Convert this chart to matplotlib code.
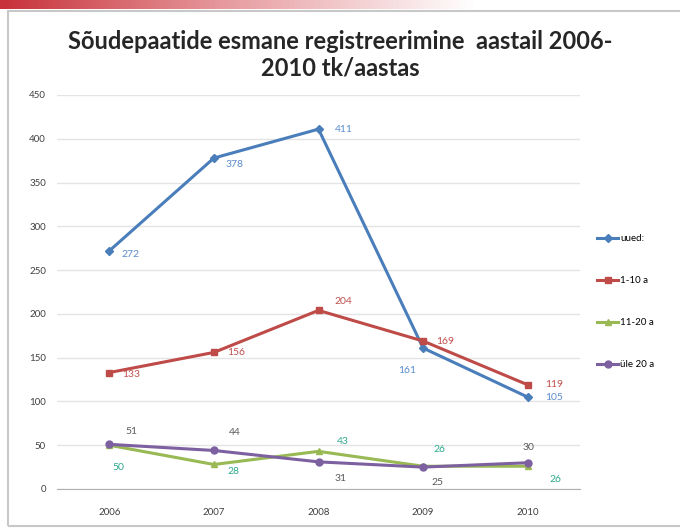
import numpy as np
import matplotlib.pyplot as plt
from matplotlib.colors import LinearSegmentedColormap
from matplotlib.patches import Rectangle

years = ['2006', '2007', '2008', '2009', '2010']
uued = [272, 378, 411, 161, 105]
a1_10 = [133, 156, 204, 169, 119]
a11_20 = [50, 28, 43, 26, 26]
ule20 = [51, 44, 31, 25, 30]
y_ticks = [0, 50, 100, 150, 200, 250, 300, 350, 400, 450]

plt.rcParams['font.family'] = ['Lato', 'DejaVu Sans']

fig = plt.figure(figsize=(6.8, 5.29), dpi=100)

# red gradient bar on top of the slide
bar = fig.add_axes([0, 1 - 9 / 529, 1, 9 / 529])
cmap = LinearSegmentedColormap.from_list('bar', ['#c8323a', '#e8a0a4', '#ffffff'])
grad = np.linspace(0, 1, 256)
grad = np.clip(grad / 0.7, 0, 1)
bar.imshow(grad[np.newaxis, :], aspect='auto', cmap=cmap, extent=[0, 1, 0, 1])
bar.axis('off')

# chart frame
fig.patches.append(Rectangle((8 / 680, 3 / 529), 1, 515 / 529, transform=fig.transFigure,
                             fill=False, edgecolor='#c8c8c8', linewidth=1.5))

ax = fig.add_axes([57 / 680, 40 / 529, 523 / 680, 394 / 529])
x = np.arange(len(years))

ax.plot(x, uued, color='#4a7ebb', marker='D', markersize=4, linewidth=2.2, label='uued:')
ax.plot(x, a1_10, color='#be4b48', marker='s', markersize=5, linewidth=2.2, label='1-10 a')
ax.plot(x, a11_20, color='#98b954', marker='^', markersize=4, linewidth=2.2, label='11-20 a')
ax.plot(x, ule20, color='#7d60a0', marker='o', markersize=5, linewidth=2.2, label='üle 20 a')

ax.set_xlim(-0.5, len(years) - 0.5)
ax.set_ylim(0, 450)
ax.set_yticks(y_ticks)
ax.set_xticks(x)
ax.set_xticklabels(years)
ax.tick_params(axis='both', length=0, labelsize=7, colors='#404040')
ax.tick_params(axis='x', pad=14)
ax.tick_params(axis='y', pad=8)
ax.grid(axis='y', color='#e4e4e4', linewidth=1)
ax.set_axisbelow(True)
for s in ['top', 'right', 'left']:
    ax.spines[s].set_visible(False)
ax.spines['bottom'].set_color('#b0b0b0')

# data labels (offsets in pixels)
uued_off = [(12, -4), (12, -6), (16, 0), (-25, -22), (17, 0)]
a1_off = [(13, -2), (13, 0), (16, 9), (13, 0), (17, 0)]
a11_off = [(3, -22), (14, -7), (18, 10), (10, 17), (22, -13)]
ule_off = [(16, 13), (15, 18), (16, -17), (8, -15), (-5, 15)]
series = [(uued, uued_off, '#5b8ccb'), (a1_10, a1_off, '#c0504d'),
          (a11_20, a11_off, '#2fa98c'), (ule20, ule_off, '#595959')]
for vals, offs, col in series:
    for i, v in enumerate(vals):
        ax.annotate(str(v), (x[i], v), xytext=offs[i], textcoords='offset pixels',
                    fontsize=7.5, color=col, va='center', ha='left')

ax.legend(loc='center left', bbox_to_anchor=(1.025, 0.475), frameon=False, fontsize=7,
          labelspacing=3.4, handlelength=2.2, handletextpad=0.2, borderaxespad=0)

fig.text(0.5, 1 - 55 / 529, 'Sõudepaatide esmane registreerimine  aastail 2006-\n2010 tk/aastas',
         ha='center', va='center', fontsize=17, fontweight='bold', linespacing=1.2, color='#262626')

fig.savefig('out.png', dpi=100)
